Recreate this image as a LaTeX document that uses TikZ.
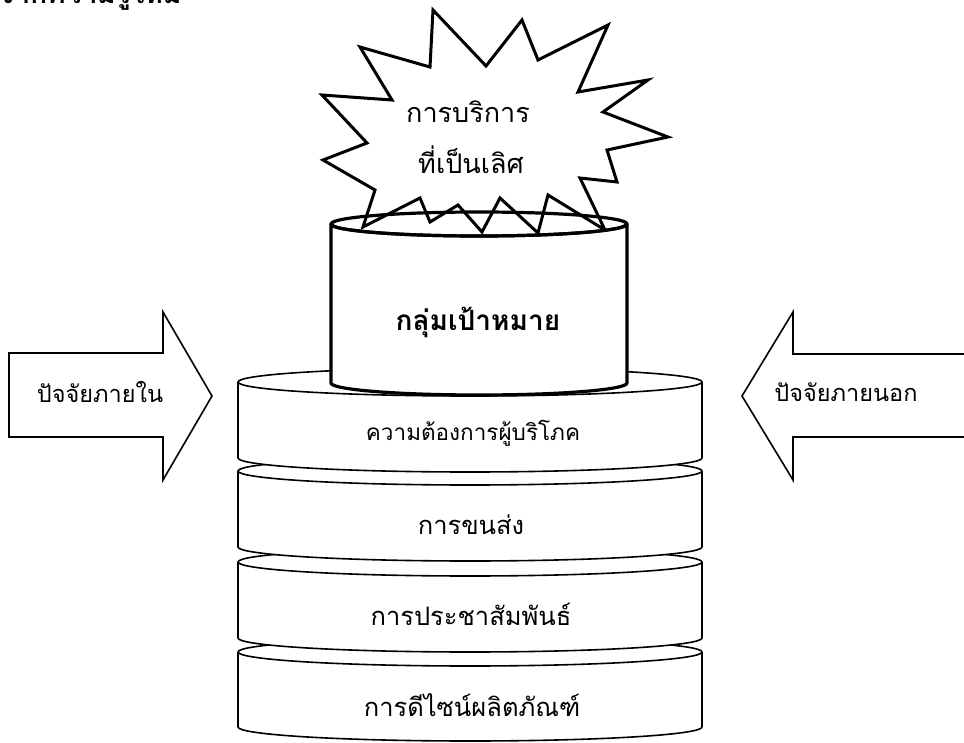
\documentclass[tikz,border=0pt]{standalone}
\usepackage{fontspec}
\newfontfamily\thaifont[Script=Thai]{Loma}
\usetikzlibrary{calc}

\begin{document}
\begin{tikzpicture}[x=1pt, y=-1pt]

    \useasboundingbox (0, 0) rectangle (964, 743);

    \tikzstyle{disk}=[draw=black, line width=1.6pt, fill=white, line join=round];
    \tikzstyle{drum}=[draw=black, line width=3.2pt, fill=white, line join=round];
    \tikzstyle{burst}=[draw=black, line width=3pt, fill=white, line join=miter];
    \tikzstyle{block}=[draw=black, line width=1.6pt, fill=white, line join=miter];
    \tikzstyle{word}=[font=\thaifont\fontsize{25.5}{30}\selectfont];
    \tikzstyle{big}=[font=\thaifont\fontsize{23.5}{28}\selectfont];

    % heading cut off by the page edge
    \node[anchor=base west, inner sep=0pt, font=\thaifont\bfseries\fontsize{28}{33}\selectfont] (head) at (-2, 4) {จากความรู้ใหม่};

    % block arrows
    \draw[block] (9, 353) -- (163, 353) -- (163, 312) -- (212, 396) -- (163, 480) -- (163, 437) -- (9, 437) -- cycle;
    \node[big] (inner) at (100, 392) {ปัจจัยภายใน};

    \draw[block] (975, 354) -- (793, 354) -- (793, 312) -- (742, 396) -- (793, 480) -- (793, 437) -- (975, 437) -- cycle;
    \node[big] (outer) at (846, 392) {ปัจจัยภายนอก};

    % stack of disks, bottom first
    \draw[disk] (238, 652) -- (238, 727) arc[start angle=180, end angle=0, x radius=232, y radius=14] -- (702, 652) arc[start angle=0, end angle=-180, x radius=232, y radius=14] -- cycle;
    \draw[disk, fill=none] (238, 652) arc[start angle=180, end angle=0, x radius=232, y radius=14];
    \node[word] (design) at (472, 705) {การดีไซน์ผลิตภัณฑ์};

    \draw[disk] (238, 562) -- (238, 638) arc[start angle=180, end angle=0, x radius=232, y radius=14] -- (702, 562) arc[start angle=0, end angle=-180, x radius=232, y radius=14] -- cycle;
    \draw[disk, fill=none] (238, 562) arc[start angle=180, end angle=0, x radius=232, y radius=14];
    \node[word] (pr) at (471, 614) {การประชาสัมพันธ์};

    \draw[disk] (238, 471) -- (238, 547) arc[start angle=180, end angle=0, x radius=232, y radius=14] -- (702, 471) arc[start angle=0, end angle=-180, x radius=232, y radius=14] -- cycle;
    \draw[disk, fill=none] (238, 471) arc[start angle=180, end angle=0, x radius=232, y radius=14];
    \node[word] (ship) at (471, 525) {การขนส่ง};

    \draw[disk] (238, 382) -- (238, 458) arc[start angle=180, end angle=0, x radius=232, y radius=14] -- (702, 382) arc[start angle=0, end angle=-180, x radius=232, y radius=14] -- cycle;
    \draw[disk, fill=none] (238, 382) arc[start angle=180, end angle=0, x radius=232, y radius=14];
    \node[font=\thaifont\fontsize{22.5}{27}\selectfont] (need) at (473, 433) {ความต้องการผู้บริโภค};

    % starburst
    \draw[burst] (433, 10) -- (486, 66) -- (522, 20) -- (538, 60) -- (608, 25) -- (578, 92) -- (648, 80) -- (603, 112) -- (668, 137) -- (607, 150) -- (617, 182) -- (580, 178) -- (605, 230) -- (548, 195) -- (538, 233) -- (500, 198) -- (482, 232) -- (458, 205) -- (430, 222) -- (420, 198) -- (363, 227) -- (375, 190) -- (323, 160) -- (367, 143) -- (322, 95) -- (392, 100) -- (360, 47) -- (430, 67) -- cycle;
    \node[font=\thaifont\fontsize{27}{32}\selectfont] (service) at (468, 112) {การบริการ};
    \node[font=\thaifont\fontsize{27}{32}\selectfont] (best) at ($(service)+(3, 48)$) {ที่เป็นเลิศ};

    % target drum on top
    \draw[drum] (331, 224) -- (331, 383) arc[start angle=180, end angle=0, x radius=148, y radius=12] -- (627, 224) arc[start angle=0, end angle=180, x radius=148, y radius=12] -- cycle;
    \draw[drum, fill=none] (479, 224) ellipse[x radius=148, y radius=12];
    \node[font=\thaifont\bfseries\fontsize{28}{33}\selectfont] (target) at (478, 322) {กลุ่มเป้าหมาย};

\end{tikzpicture}
\end{document}
